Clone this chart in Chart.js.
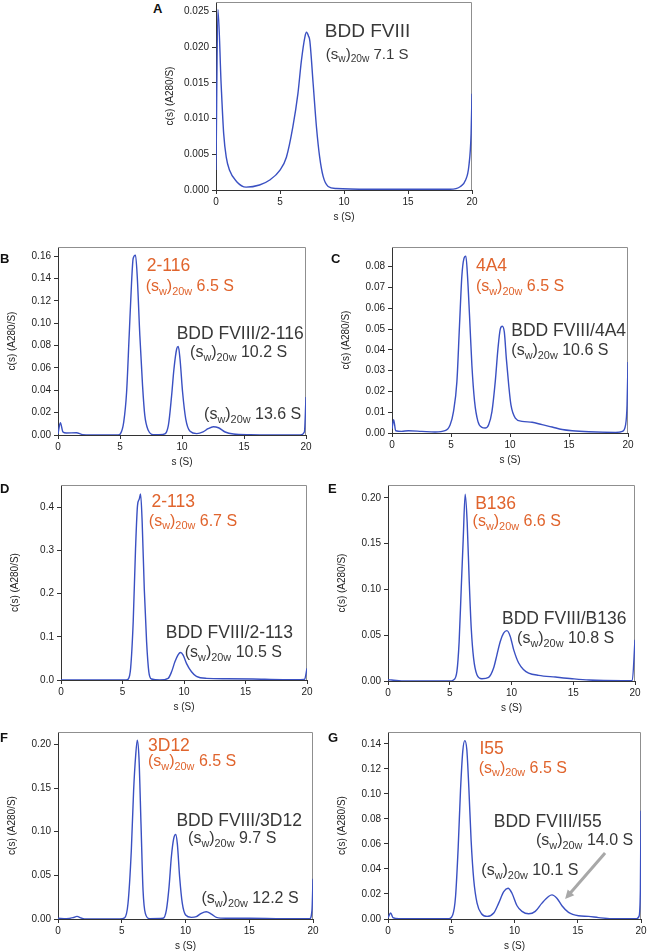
<!DOCTYPE html>
<html>
<head>
<meta charset="utf-8">
<script src="https://cdn.jsdelivr.net/npm/chart.js@4.4.0/dist/chart.umd.min.js"></script>
<style>
  html, body { margin: 0; padding: 0; background: #fff; }
  #page { position: relative; width: 647px; height: 951px; overflow: hidden; }
  canvas { position: absolute; }
  .letter { position: absolute; font: bold 13px "Liberation Sans", Arial, sans-serif; color: #111; }
</style>
</head>
<body>
<div id="page"></div>
<script>
// sedimentation coefficient (S) and c(s) values
const sA = [0, 0.15, 0.4, 0.6, 0.8, 1.05, 1.6, 2.35, 3.4, 4.2, 5.0, 5.5, 6.0, 6.4, 6.67, 6.94, 7.07, 7.22, 7.33, 7.59, 7.85, 8.1, 8.37, 8.76, 9.4, 12, 15, 18.3, 19.1, 19.5, 19.75, 19.93, 20];
const cA = [0.0028, 0.0253, 0.0149, 0.0079, 0.0046, 0.0028, 0.0012, 0.0004, 0.0007, 0.0014, 0.0028, 0.0046, 0.0088, 0.0135, 0.0181, 0.0214, 0.0221, 0.0216, 0.0209, 0.0149, 0.0088, 0.0046, 0.0019, 0.0005, 0.0002, 0.0001, 0.0001, 0.0001, 0.0005, 0.0014, 0.0033, 0.0079, 0.0135];

const sB = [0, 0.19, 0.4, 0.67, 1.48, 2.0, 3.4, 4.85, 5.04, 5.3, 5.53, 5.74, 5.93, 6.06, 6.25, 6.39, 6.6, 6.82, 7.0, 7.28, 7.68, 8.49, 8.9, 9.16, 9.35, 9.57, 9.7, 9.84, 10.05, 10.3, 10.65, 11.19, 11.7, 12.1, 12.53, 12.94, 13.48, 14.15, 15.5, 19.54, 19.87, 20];
const cB = [0.001, 0.011, 0.0027, 0.0018, 0.002, 0.0003, 0, 0, 0.0012, 0.0116, 0.038, 0.089, 0.136, 0.158, 0.161, 0.142, 0.089, 0.044, 0.0175, 0.0042, 0.0003, 0.0006, 0.0086, 0.035, 0.059, 0.077, 0.0793, 0.068, 0.038, 0.0145, 0.0033, 0.0012, 0.0027, 0.0056, 0.0074, 0.0065, 0.0027, 0.0009, 0.0003, 0, 0.0027, 0.034];

const sC = [0, 0.14, 0.31, 0.82, 1.39, 2.52, 3.65, 4.5, 4.93, 5.21, 5.5, 5.72, 5.92, 6.09, 6.26, 6.4, 6.57, 6.77, 7.0, 7.28, 7.62, 7.9, 8.19, 8.47, 8.75, 8.98, 9.18, 9.35, 9.52, 9.69, 9.89, 10.08, 10.45, 11.02, 11.87, 12.72, 13.57, 14.42, 15.27, 16.69, 18.95, 19.52, 19.8, 19.92, 20];
const cC = [0.002, 0.0064, 0.0011, 0.0008, 0.0011, 0.0008, 0.0005, 0.0011, 0.004, 0.0103, 0.0247, 0.0517, 0.0755, 0.0838, 0.0851, 0.0755, 0.0565, 0.0326, 0.0151, 0.0056, 0.0027, 0.0024, 0.004, 0.0103, 0.0247, 0.0406, 0.0501, 0.0514, 0.0485, 0.0358, 0.0231, 0.0135, 0.0072, 0.0056, 0.0052, 0.004, 0.0029, 0.0017, 0.0011, 0.0006, 0.0003, 0.0008, 0.004, 0.0135, 0.0342];

const sD = [0, 5.3, 5.47, 5.66, 5.87, 6.06, 6.22, 6.36, 6.47, 6.6, 6.77, 6.96, 7.14, 7.36, 8.04, 8.71, 8.99, 9.26, 9.53, 9.72, 9.93, 10.2, 10.61, 11.01, 11.83, 13.45, 15.6, 18.05, 19.8, 20];
const cD = [0, 0, 0.0023, 0.027, 0.135, 0.304, 0.404, 0.419, 0.431, 0.365, 0.2115, 0.088, 0.019, 0.0023, 0, 0.0038, 0.019, 0.042, 0.059, 0.0638, 0.0577, 0.0385, 0.019, 0.0085, 0.0038, 0.003, 0.0023, 0.0008, 0.0015, 0.027];

const sE = [0, 0.3, 1.4, 5.0, 5.3, 5.58, 5.76, 5.93, 6.09, 6.25, 6.41, 6.58, 6.74, 6.93, 7.2, 7.6, 8.15, 8.55, 8.82, 9.09, 9.36, 9.63, 9.9, 10.18, 10.58, 10.99, 11.39, 12.2, 13.56, 14.91, 16.27, 18.97, 19.78, 20];
const cE = [0.0014, 0.0011, 0, 0, 0.0011, 0.0105, 0.043, 0.101, 0.155, 0.204, 0.1736, 0.108, 0.0576, 0.025, 0.0069, 0.0025, 0.004, 0.0141, 0.0286, 0.0431, 0.0522, 0.055, 0.0486, 0.034, 0.0196, 0.0123, 0.0087, 0.0062, 0.0043, 0.0025, 0.0011, 0.0004, 0.0007, 0.045];

const sF = [0, 0.65, 1.18, 1.49, 1.83, 2.22, 4.84, 5.23, 5.49, 5.75, 5.93, 6.09, 6.22, 6.35, 6.51, 6.67, 6.85, 7.19, 8.24, 8.5, 8.71, 8.89, 9.07, 9.23, 9.36, 9.54, 9.75, 10.01, 10.46, 10.85, 11.24, 11.63, 12.03, 12.42, 13.2, 15.03, 17.65, 19.74, 19.92, 20];
const cF = [0.0008, 0.0004, 0.0015, 0.003, 0.0011, 0, 0, 0.0015, 0.0178, 0.0786, 0.147, 0.187, 0.205, 0.185, 0.109, 0.033, 0.0065, 0.0004, 0.0008, 0.0102, 0.0368, 0.071, 0.0918, 0.0968, 0.0861, 0.0482, 0.0178, 0.0046, 0.0019, 0.0027, 0.0065, 0.0083, 0.0057, 0.0019, 0.0008, 0.0008, 0.0004, 0.0004, 0.0102, 0.046];

const sG = [0, 0.21, 0.39, 0.87, 4.81, 5.12, 5.34, 5.55, 5.73, 5.91, 6.07, 6.23, 6.39, 6.57, 6.78, 7.04, 7.39, 7.83, 8.36, 8.75, 9.15, 9.49, 9.8, 10.2, 10.59, 11.12, 11.64, 12.17, 12.69, 12.96, 13.35, 13.75, 14.27, 15.06, 15.85, 16.64, 17.69, 19.66, 19.84, 19.95, 20];
const cG = [0.0008, 0.0048, 0.0011, 0.0003, 0.0003, 0.0034, 0.018, 0.0576, 0.1025, 0.134, 0.1426, 0.1355, 0.1051, 0.0629, 0.0312, 0.0127, 0.0042, 0.0021, 0.0048, 0.0127, 0.0219, 0.0246, 0.0206, 0.0106, 0.0061, 0.0042, 0.0061, 0.0127, 0.018, 0.0193, 0.0166, 0.0106, 0.0053, 0.0026, 0.0021, 0.0011, 0.0003, 0.0003, 0.0021, 0.0232, 0.0866];

// tick labels
const sTicks = [0, 5, 10, 15, 20];
const ticksA = [0, 0.005, 0.010, 0.015, 0.020, 0.025];
const ticksB = [0, 0.02, 0.04, 0.06, 0.08, 0.10, 0.12, 0.14, 0.16];
const ticksC = [0, 0.01, 0.02, 0.03, 0.04, 0.05, 0.06, 0.07, 0.08];
const ticksD = [0, 0.1, 0.2, 0.3, 0.4];
const ticksE = [0, 0.05, 0.10, 0.15, 0.20];
const ticksF = [0, 0.05, 0.10, 0.15, 0.20];
const ticksG = [0, 0.02, 0.04, 0.06, 0.08, 0.10, 0.12, 0.14];

const FONT = '"Liberation Sans", Arial, sans-serif';
const ORANGE = '#e0642d';
const DARK = '#383838';
const LINE = '#3a50c2';

// plot area boxes on the page: [left, top, right, bottom]
const panels = [
  { letter: 'A', box: [216, 1, 472, 190],   lx: 153, ly: 1,   s: sA, c: cA, ticks: ticksA, dec: 3, ymax: 0.02635,
    notes: [ { s: 8.5, c: 0.0215, text: 'BDD FVIII', size: 19, color: DARK },
             { s: 8.58, c: 0.0184, sw: '7.1', size: 15, color: DARK } ] },
  { letter: 'B', box: [58, 246, 306, 435],  lx: 0,   ly: 251, s: sB, c: cB, ticks: ticksB, dec: 2, ymax: 0.1683,
    notes: [ { s: 7.15, c: 0.1467, text: '2-116', size: 17.5, color: ORANGE },
             { s: 7.07, c: 0.1289, sw: '6.5', size: 16, color: ORANGE },
             { s: 9.57, c: 0.0858, text: 'BDD FVIII/2-116', size: 17.5, color: DARK },
             { s: 10.65, c: 0.0695, sw: '10.2', size: 16, color: DARK },
             { s: 11.78, c: 0.0146, sw: '13.6', size: 16, color: DARK } ] },
  { letter: 'C', box: [392, 246, 628, 433], lx: 331, ly: 251, s: sC, c: cC, ticks: ticksC, dec: 2, ymax: 0.0895,
    notes: [ { s: 7.11, c: 0.078, text: '4A4', size: 17.5, color: ORANGE },
             { s: 7.11, c: 0.0684, sw: '6.5', size: 16, color: ORANGE },
             { s: 10.11, c: 0.0469, text: 'BDD FVIII/4A4', size: 17.5, color: DARK },
             { s: 10.11, c: 0.0374, sw: '10.6', size: 16, color: DARK } ] },
  { letter: 'D', box: [61, 484, 307, 680],  lx: 0,   ly: 481, s: sD, c: cD, ticks: ticksD, dec: 1, ymax: 0.4517,
    notes: [ { s: 7.36, c: 0.40, text: '2-113', size: 17.5, color: ORANGE },
             { s: 7.14, c: 0.3578, sw: '6.7', size: 16, color: ORANGE },
             { s: 8.52, c: 0.0977, text: 'BDD FVIII/2-113', size: 17.5, color: DARK },
             { s: 10.06, c: 0.0538, sw: '10.5', size: 16, color: DARK } ] },
  { letter: 'E', box: [388, 484, 635, 681], lx: 328, ly: 481, s: sE, c: cE, ticks: ticksE, dec: 2, ymax: 0.2141,
    notes: [ { s: 7.06, c: 0.188, text: 'B136', size: 17.5, color: ORANGE },
             { s: 6.85, c: 0.169, sw: '6.6', size: 16, color: ORANGE },
             { s: 9.23, c: 0.062, text: 'BDD FVIII/B136', size: 17.5, color: DARK },
             { s: 10.45, c: 0.0413, sw: '10.8', size: 16, color: DARK } ] },
  { letter: 'F', box: [58, 731, 313, 919],  lx: 0,   ly: 730, s: sF, c: cF, ticks: ticksF, dec: 2, ymax: 0.2143,
    notes: [ { s: 7.06, c: 0.1924, text: '3D12', size: 17.5, color: ORANGE },
             { s: 7.06, c: 0.1753, sw: '6.5', size: 16, color: ORANGE },
             { s: 9.29, c: 0.107, text: 'BDD FVIII/3D12', size: 17.5, color: DARK },
             { s: 10.2, c: 0.0869, sw: '9.7', size: 16, color: DARK },
             { s: 11.25, c: 0.0179, sw: '12.2', size: 16, color: DARK } ] },
  { letter: 'G', box: [388, 731, 641, 919], lx: 328, ly: 730, s: sG, c: cG, ticks: ticksG, dec: 2, ymax: 0.1495,
    notes: [ { s: 7.23, c: 0.1316, text: 'I55', size: 17.5, color: ORANGE },
             { s: 7.17, c: 0.117, sw: '6.5', size: 16, color: ORANGE },
             { s: 8.36, c: 0.0734, text: 'BDD FVIII/I55', size: 17.5, color: DARK },
             { s: 11.7, c: 0.0589, sw: '14.0', size: 16, color: DARK },
             { s: 7.38, c: 0.0351, sw: '10.1', size: 16, color: DARK } ],
    arrow: [17.16, 0.0528, 14.0, 0.0159] }
];

const Y_W = 52, X_H = 33, PAD_T = 8, PAD_R = 12;

function drawRich(ctx, x, y, parts, size, color) {
  ctx.fillStyle = color;
  ctx.textAlign = 'left';
  ctx.textBaseline = 'alphabetic';
  parts.forEach(function (p) {
    const fs = p[1] ? size * 0.68 : size;
    ctx.font = fs + 'px ' + FONT;
    ctx.fillText(p[0], x, y + (p[1] ? size * 0.24 : 0));
    x += ctx.measureText(p[0]).width;
  });
}

const notesPlugin = {
  id: 'notes',
  beforeDatasetsDraw(chart) {
    // light frame on top and right
    const a = chart.chartArea, ctx = chart.ctx;
    ctx.save();
    ctx.strokeStyle = '#8f8f8f';
    ctx.lineWidth = 1;
    ctx.beginPath();
    ctx.moveTo(a.left, a.top + 0.5);
    ctx.lineTo(a.right - 0.5, a.top + 0.5);
    ctx.lineTo(a.right - 0.5, a.bottom);
    ctx.stroke();
    ctx.restore();
  },
  afterDatasetsDraw(chart, args, opts) {
    const ctx = chart.ctx, xs = chart.scales.x, ys = chart.scales.y;
    ctx.save();
    (opts.items || []).forEach(function (n) {
      const x = xs.getPixelForValue(n.s), y = ys.getPixelForValue(n.c);
      const parts = n.sw ? [['(s', 0], ['w', 1], [')', 0], ['20w', 1], [' ' + n.sw + ' S', 0]] : [[n.text, 0]];
      drawRich(ctx, x, y, parts, n.size, n.color);
    });
    if (opts.arrow) {
      const r = opts.arrow;
      const x1 = xs.getPixelForValue(r[0]), y1 = ys.getPixelForValue(r[1]);
      const x2 = xs.getPixelForValue(r[2]), y2 = ys.getPixelForValue(r[3]);
      const ang = Math.atan2(y2 - y1, x2 - x1), head = 10;
      ctx.strokeStyle = '#a8a8a8';
      ctx.fillStyle = '#a8a8a8';
      ctx.lineWidth = 3;
      ctx.beginPath();
      ctx.moveTo(x1, y1);
      ctx.lineTo(x2 - head * 0.8 * Math.cos(ang), y2 - head * 0.8 * Math.sin(ang));
      ctx.stroke();
      ctx.beginPath();
      ctx.moveTo(x2, y2);
      ctx.lineTo(x2 - head * Math.cos(ang - 0.45), y2 - head * Math.sin(ang - 0.45));
      ctx.lineTo(x2 - head * Math.cos(ang + 0.45), y2 - head * Math.sin(ang + 0.45));
      ctx.closePath();
      ctx.fill();
    }
    ctx.restore();
  }
};

const page = document.getElementById('page');

panels.forEach(function (p) {
  const b = p.box;
  const w = (b[2] - b[0]) + Y_W + PAD_R;
  const h = (b[3] - b[1]) + PAD_T + X_H;
  const cv = document.createElement('canvas');
  cv.width = w;
  cv.height = h;
  cv.style.left = (b[0] - Y_W) + 'px';
  cv.style.top = (b[1] - PAD_T) + 'px';
  cv.style.width = w + 'px';
  cv.style.height = h + 'px';
  page.appendChild(cv);

  const lab = document.createElement('div');
  lab.className = 'letter';
  lab.textContent = p.letter;
  lab.style.left = p.lx + 'px';
  lab.style.top = p.ly + 'px';
  page.appendChild(lab);

  const points = p.s.map((v, i) => ({ x: v, y: p.c[i] }));

  new Chart(cv.getContext('2d'), {
    type: 'line',
    data: {
      datasets: [{
        data: points,
        borderColor: LINE,
        borderWidth: 1.4,
        pointRadius: 0,
        fill: false,
        cubicInterpolationMode: 'monotone'
      }]
    },
    options: {
      responsive: false,
      animation: false,
      devicePixelRatio: 1,
      layout: { padding: { top: PAD_T, right: PAD_R, left: 0, bottom: 0 } },
      plugins: {
        legend: { display: false },
        tooltip: { enabled: false },
        notes: { items: p.notes, arrow: p.arrow }
      },
      scales: {
        x: {
          type: 'linear',
          min: 0,
          max: 20,
          afterBuildTicks: s => { s.ticks = sTicks.map(v => ({ value: v })); },
          afterFit: s => { s.height = X_H; },
          grid: { drawOnChartArea: false, tickLength: 4, color: '#333' },
          border: { color: '#333', width: 1 },
          ticks: { padding: 2, color: '#222', font: { family: FONT, size: 10 }, maxRotation: 0 },
          title: { display: true, text: 's (S)', color: '#222', padding: 0, font: { family: FONT, size: 10 } }
        },
        y: {
          type: 'linear',
          min: 0,
          max: p.ymax,
          afterBuildTicks: s => { s.ticks = p.ticks.map(v => ({ value: v })); },
          afterFit: s => { s.width = Y_W; },
          grid: { drawOnChartArea: false, tickLength: 4, color: '#333' },
          border: { color: '#333', width: 1 },
          ticks: { padding: 3, color: '#222', font: { family: FONT, size: 10 }, callback: v => Number(v).toFixed(p.dec) },
          title: { display: true, text: 'c(s) (A280/S)', color: '#222', padding: 0, font: { family: FONT, size: 10 } }
        }
      }
    },
    plugins: [notesPlugin]
  });
});
</script>
</body>
</html>
